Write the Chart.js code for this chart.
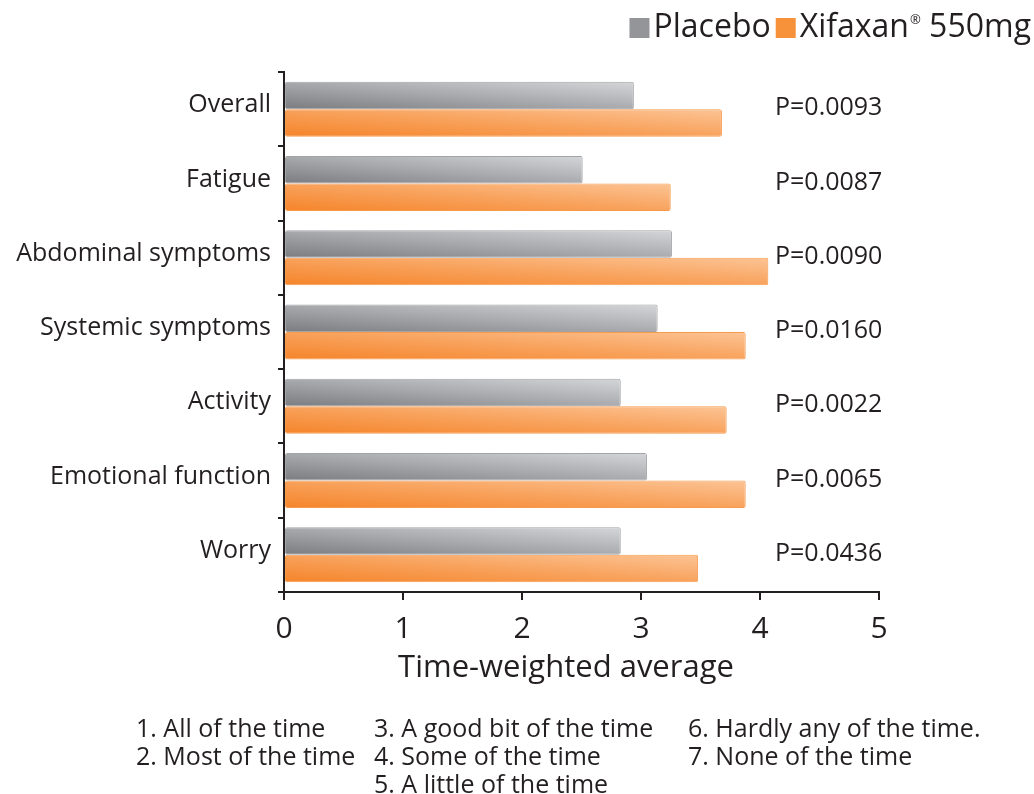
<!DOCTYPE html>
<html>
<head>
<meta charset="utf-8">
<title>Time-weighted average by domain</title>
<script src="https://cdn.jsdelivr.net/npm/chart.js@4"></script>
<style>
  html, body { margin: 0; padding: 0; background: #ffffff; }
  #wrap { position: relative; width: 1034px; height: 794px; }
  #chart { position: absolute; left: 0; top: 0; }
  .note { position: absolute; top: 713px; font-family: "Open Sans", sans-serif; font-size: 25px;
          line-height: 28px; color: #231f20; white-space: nowrap; }
</style>
</head>
<body>
<div id="wrap">
  <canvas id="chart" width="1034" height="794"></canvas>
  <div class="note" style="left:136px">1. All of the time<br>2. Most of the time</div>
  <div class="note" style="left:374px">3. A good bit of the time<br>4. Some of the time<br>5. A little of the time</div>
  <div class="note" style="left:688px">6. Hardly any of the time.<br>7. None of the time</div>
</div>
<script>
// Domains, top to bottom
const categories = ['Overall', 'Fatigue', 'Abdominal symptoms', 'Systemic symptoms',
                    'Activity', 'Emotional function', 'Worry'];
const placeboValues  = [2.94, 2.51, 3.26, 3.14, 2.83, 3.05, 2.83];
const xifaxanValues  = [3.68, 3.25, 4.07, 3.88, 3.72, 3.88, 3.48];
const pValues = ['P=0.0093', 'P=0.0087', 'P=0.0090', 'P=0.0160', 'P=0.0022', 'P=0.0065', 'P=0.0436'];
const xTicks = [0, 1, 2, 3, 4, 5];
const seriesNames = ['Placebo', 'Xifaxan', '550mg'];

const FONT = '"Open Sans", sans-serif';
const INK = '#231f20';

// Gradient stops: darkest at bottom-left of a bar, lightest at top-right
const shades = [
  ['#7b7c80', '#a9aaae', '#d5d6d8'],
  ['#f5842a', '#f8a25c', '#fcc495']
];

const shadeBars = {
  id: 'shadeBars',
  beforeDatasetsDraw(chart) {
    const ctx = chart.ctx;
    chart.data.datasets.forEach((ds, di) => {
      const stops = shades[di];
      chart.getDatasetMeta(di).data.forEach(bar => {
        const p = bar.getProps(['x', 'y', 'base', 'height'], true);
        const left = Math.min(p.x, p.base), right = Math.max(p.x, p.base);
        const bottom = p.y + p.height / 2;
        const W = Math.max(right - left, 1), H = Math.max(p.height, 1);
        const gx = 1 / (2 * W), gy = -1 / (2 * H);
        const g2 = gx * gx + gy * gy;
        const grad = ctx.createLinearGradient(left, bottom, left + gx / g2, bottom + gy / g2);
        grad.addColorStop(0, stops[0]);
        grad.addColorStop(0.5, stops[1]);
        grad.addColorStop(1, stops[2]);
        bar.options = Object.assign({}, bar.options, { backgroundColor: grad });
      });
    });
  }
};

// P-value labels to the right of each pair of bars, plus the axis title
const annotations = {
  id: 'annotations',
  afterDraw(chart) {
    const ctx = chart.ctx;
    const y = chart.scales.y;
    ctx.save();
    ctx.fillStyle = INK;
    ctx.textBaseline = 'middle';
    ctx.textAlign = 'left';
    ctx.font = '25px ' + FONT;
    pValues.forEach((t, i) => {
      ctx.fillText(t, 775, y.getPixelForValue(i) - 1);
    });
    ctx.textAlign = 'center';
    ctx.font = '31px ' + FONT;
    ctx.fillText('Time-weighted average', 566, 668);
    ctx.restore();
  }
};

// Legend in the top-right corner
const topLegend = {
  id: 'topLegend',
  afterDraw(chart) {
    const ctx = chart.ctx;
    const big = '32px ' + FONT, small = '13px ' + FONT;
    const cy = 28, box = 20, gap = 4, itemGap = 5;
    ctx.save();
    ctx.textBaseline = 'middle';
    ctx.font = big;
    const w0 = ctx.measureText(seriesNames[0]).width;
    const w1 = ctx.measureText(seriesNames[1]).width;
    const w2 = ctx.measureText(' ' + seriesNames[2]).width;
    ctx.font = small;
    const wr = ctx.measureText('\u00AE').width + 1;
    const total = box + gap + w0 + itemGap + box + gap + w1 + wr + w2;
    let x = 1031 - total;
    ctx.fillStyle = '#939598';
    ctx.fillRect(x, cy - box / 2, box, box);
    x += box + gap;
    ctx.fillStyle = INK;
    ctx.font = big;
    ctx.textAlign = 'left';
    ctx.fillText(seriesNames[0], x, cy);
    x += w0 + itemGap;
    ctx.fillStyle = '#f7923a';
    ctx.fillRect(x, cy - box / 2, box, box);
    x += box + gap;
    ctx.fillStyle = INK;
    ctx.fillText(seriesNames[1], x, cy);
    x += w1;
    ctx.font = small;
    ctx.fillText('\u00AE', x + 1, cy - 8);
    x += wr;
    ctx.font = big;
    ctx.fillText(' ' + seriesNames[2], x, cy);
    ctx.restore();
  }
};

new Chart(document.getElementById('chart'), {
  type: 'bar',
  data: {
    labels: categories,
    datasets: [
      { label: 'Placebo', data: placeboValues, borderColor: '#a3a4a7' },
      { label: 'Xifaxan® 550mg', data: xifaxanValues, borderColor: '#f79a4c' }
    ]
  },
  options: {
    indexAxis: 'y',
    responsive: false,
    animation: false,
    devicePixelRatio: 1,
    categoryPercentage: 0.74,
    barPercentage: 1.0,
    layout: { padding: { top: 72, right: 155, left: 0, bottom: 0 } },
    datasets: {
      bar: { borderWidth: 1, borderRadius: 2, borderSkipped: false, backgroundColor: '#aaaaaa' }
    },
    plugins: {
      legend: { display: false },
      tooltip: { enabled: false }
    },
    scales: {
      x: {
        type: 'linear',
        min: 0,
        max: 5,
        afterBuildTicks: s => { s.ticks = xTicks.map(v => ({ value: v })); },
        afterFit: s => { s.height = 202; },
        border: { display: true, color: INK, width: 2 },
        grid: { drawOnChartArea: false, drawTicks: true, tickLength: 8, color: INK, lineWidth: 2 },
        ticks: { color: INK, font: { family: FONT, size: 30 }, padding: 11, maxRotation: 0 }
      },
      y: {
        afterFit: s => { s.width = 284; },
        border: { display: true, color: INK, width: 2 },
        grid: { drawOnChartArea: false, drawTicks: true, tickLength: 6, color: INK, lineWidth: 2 },
        ticks: { color: INK, font: { family: FONT, size: 25 }, padding: 7, labelOffset: -4 }
      }
    }
  },
  plugins: [shadeBars, annotations, topLegend]
});
</script>
</body>
</html>
